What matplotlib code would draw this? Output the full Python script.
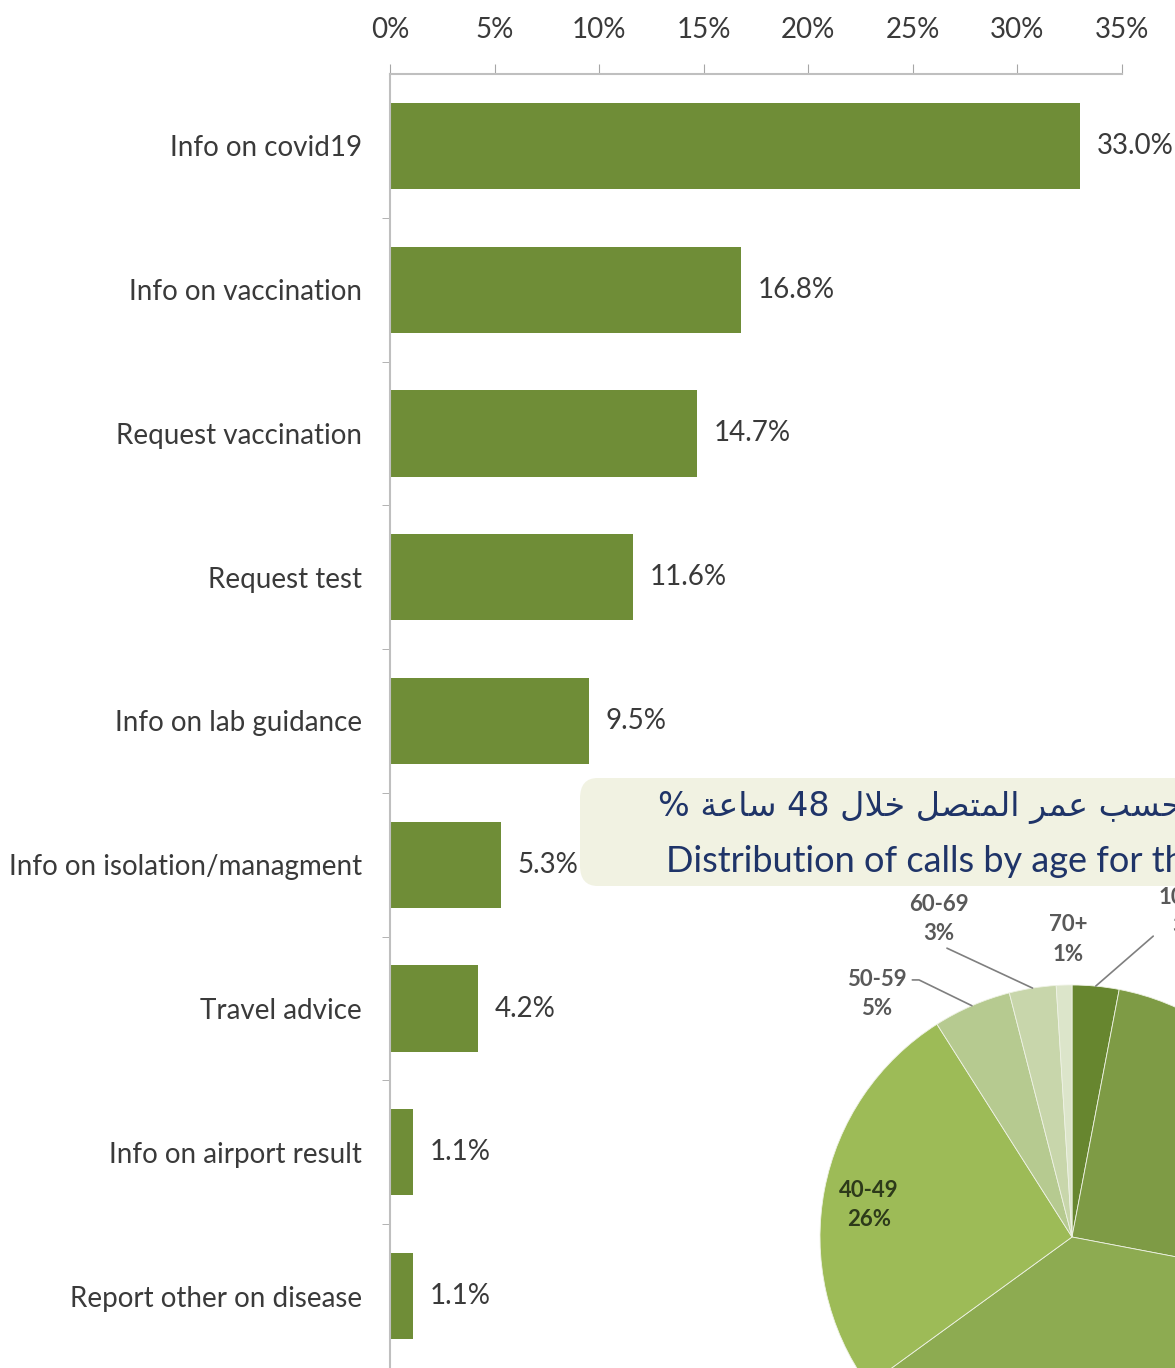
import numpy as np
import matplotlib
matplotlib.use("Agg")
import matplotlib.pyplot as plt
from matplotlib.patches import FancyBboxPatch

# bar chart data
categories = ["Info on covid19", "Info on vaccination", "Request vaccination",
              "Request test", "Info on lab guidance", "Info on isolation/managment",
              "Travel advice", "Info on airport result", "Report other on disease"]
shares = [33.0, 16.8, 14.7, 11.6, 9.5, 5.3, 4.2, 1.1, 1.1]
xticks = [0, 5, 10, 15, 20, 25, 30, 35]

# pie data (age groups), clockwise from 12 o'clock
ages = ["10-19", "20-29", "30-39", "40-49", "50-59", "60-69", "70+"]
age_share = [3, 25, 37, 26, 5, 3, 1]
age_colors = ["#67862f", "#7e9b45", "#8dab51", "#9dbb57", "#b6ca90", "#c8d6ab", "#dce5ca"]

W, H = 1175, 1368
fnt = "Lato"
txt_col = "#3a3a3a"
bar_col = "#6f8d37"

def fx(x):
    return x / W

def fy(y):
    return 1 - y / H

fig = plt.figure(figsize=(W / 100, H / 100), dpi=100)

# ---- bar chart ----
top = 74
ax = fig.add_axes([fx(390), 0, fx(1122) - fx(390), (H - top) / H])
ypos = np.arange(len(categories))
ax.barh(ypos, shares, height=0.6, color=bar_col)
for y, v in zip(ypos, shares):
    ax.text(v + 0.8, y, f"{v:.1f}%", va="center", ha="left", fontsize=20,
            color=txt_col, family=fnt, clip_on=False)
ax.set_xlim(0, 35)
ax.set_ylim(len(categories) - 0.5, -0.5)
ax.xaxis.tick_top()
ax.set_xticks(xticks)
ax.set_xticklabels([f"{t}%" for t in xticks], family=fnt, fontsize=20, color=txt_col)
ax.tick_params(axis="x", direction="out", length=7, color="#a6a6a6", pad=15)
ax.set_yticks(ypos)
ax.set_yticklabels(categories, family=fnt, fontsize=20, color=txt_col)
ax.set_yticks(ypos[:-1] + 0.5, minor=True)
ax.tick_params(axis="y", which="major", length=0, pad=20)
ax.tick_params(axis="y", which="minor", direction="out", length=6, color="#a6a6a6")
for s in ["right", "bottom"]:
    ax.spines[s].set_visible(False)
for s in ["top", "left"]:
    ax.spines[s].set_color("#bfbfbf")
    ax.spines[s].set_linewidth(1.5)

# ---- title box for the pie ----
box = FancyBboxPatch((fx(580), fy(886)), fx(1260) - fx(580), fy(778) - fy(886),
                     boxstyle="round,pad=0,rounding_size=0.015", transform=fig.transFigure,
                     facecolor="#f1f2e2", edgecolor="none", zorder=5)
fig.patches.append(box)
# Arabic written in visual order with presentation forms
ar = "% \uFE94\uFECB\uFE8E\uFEB3 48 \uFEDD\uFEFC\uFEA7 \uFEDE\uFEBC\uFE98\uFEE4\uFEDF\uFE8D \uFEAE\uFEE4\uFECB \uFE90\uFEB4\uFEA3"
fig.text(fx(658), fy(808), ar, fontsize=24, color="#1f3468", family="DejaVu Sans",
         va="center", ha="left", zorder=6)
fig.text(fx(666), fy(862), "Distribution of calls by age for the last 48 hours",
         fontsize=26, color="#1f3468", family="Lato", va="center", ha="left", zorder=6)

# ---- pie ----
cx, cy, r = 1072, 1237, 252
pax = fig.add_axes([fx(cx - r), fy(cy + r), fx(2 * r), 2 * r / H])
wedges, _ = pax.pie(age_share, colors=age_colors, startangle=90, counterclock=False,
                    radius=1, wedgeprops=dict(edgecolor="#eef2e4", linewidth=0.6))
pax.set_xlim(-1, 1)
pax.set_ylim(-1, 1)
pax.set_aspect("equal")
pax.axis("off")

def edge(i):
    w = wedges[i]
    a = np.deg2rad((w.theta1 + w.theta2) / 2)
    return np.cos(a), np.sin(a)

lab_kw = dict(fontsize=16, color="#595959", family=fnt, fontweight="bold",
              ha="center", va="center", linespacing=1.5, annotation_clip=False)
line_kw = dict(arrowstyle="-", color="#7f7f7f", lw=1.2, shrinkA=2, shrinkB=0)
labels = [f"{a}\n{p}%" for a, p in zip(ages, age_share)]

pax.annotate(labels[0], xy=edge(0), xytext=(0.46, 1.29),
             arrowprops=dict(**line_kw, relpos=(0.0, 0.25),
                             connectionstyle="angle,angleA=0,angleB=41,rad=0"), **lab_kw)
pax.annotate(labels[4], xy=edge(4), xytext=(-0.774, 0.964),
             arrowprops=dict(**line_kw, relpos=(1.0, 0.78),
                             connectionstyle="angle,angleA=0,angleB=-26,rad=0"), **lab_kw)
pax.annotate(labels[5], xy=edge(5), xytext=(-0.528, 1.262),
             arrowprops=dict(**line_kw, relpos=(0.85, 0.25),
                             connectionstyle="angle,angleA=0,angleB=-25,rad=0"), **lab_kw)
pax.annotate(labels[6], xy=edge(6), xytext=(-0.016, 1.18), **lab_kw)
pax.text(-0.806, 0.127, labels[3], fontsize=16, color="#2d3a1a", family=fnt,
         fontweight="bold", ha="center", va="center", linespacing=1.5)

fig.savefig("out.png", dpi=100)
